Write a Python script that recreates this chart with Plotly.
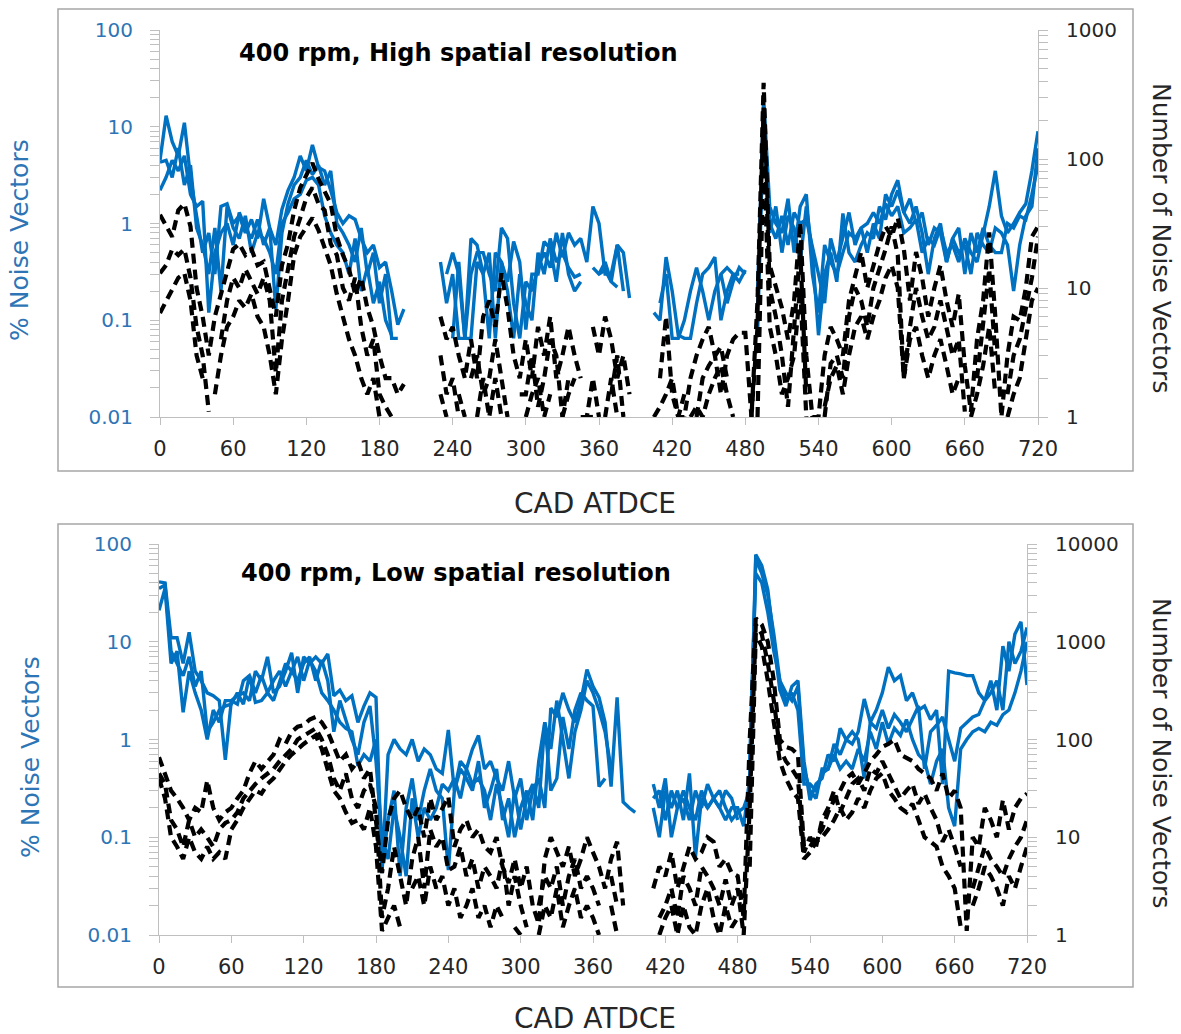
import plotly.graph_objects as go

N = None

# Crank angle (deg after TDC exhaust), 5 deg steps
cad = list(range(0, 721, 5))

# ---- 400 rpm, high spatial resolution ----
# % noise vectors (three cycles)
high_pct_1 = [
    4.5, 13, 7, 5, 11, 3, 1.2, 0.5, 0.8, 0.3, 1.5, 1.6,
    1.0, 1.2, 0.8, 1.1, 0.7, 1.8, 0.9, 0.6, 1.4, 2.2, 3.0, 5.0,
    3.5, 6.5, 3.8, 3.5, 2.2, 1.3, 1.0, 1.2, 1.1, 0.7, 0.5, 0.6,
    0.35, 0.4, 0.2, 0.09, 0.13, N, N, N, N, N, 0.4, 0.15,
    0.3, 0.065, 0.065, 0.3, 0.5, 0.5, 0.3, 0.2, 0.9, 0.7, 0.15, 0.065,
    0.25, 0.2, 0.35, 0.5, 0.35, 0.8, 0.45, 0.8, 0.6, 0.7, 0.4, 1.5,
    1.0, 0.3, 0.3, 0.6, 0.5, 0.17, N, N, N, 0.12, 0.1, 0.45,
    0.2, 0.07, 0.065, 0.065, 0.15, 0.3, 0.35, 0.45, 0.1, 0.2, 0.3, 0.25,
    0.33, N, 0.1, 20, 1.5, 1.0, 0.8, 1.8, 0.5, 1.5, 2.0, 0.3,
    0.12, 0.6, 0.4, 0.3, 0.5, 0.8, 0.7, 0.9, 1.0, 1.3, 1.0, 1.6,
    1.2, 1.5, 0.8, 0.9, 1.1, 0.5, 0.7, 0.6, 0.9, 0.5, 0.6, 0.4,
    0.7, 0.5, 0.4, 0.8, 1.5, 3.5, 1.2, 0.8, 1.0, 1.3, 1.6, 3.5,
    9.0]
high_pct_2 = [
    2.2, 3.0, 4.5, 3.5, 5.0, 2.0, 1.5, 1.7, 0.12, 0.5, 0.8, 1.0,
    0.6, 1.3, 0.9, 0.7, 1.1, 0.6, 0.9, 0.13, 0.8, 1.6, 2.5, 3.0,
    4.5, 3.2, 4.0, 2.5, 3.5, 1.0, 0.8, 0.6, 0.4, 0.9, 0.3, 0.5,
    0.15, 0.3, 0.065, 0.065, N, N, N, N, N, N, N, 0.3,
    0.5, 0.3, 0.065, 0.7, 0.6, 0.3, 0.065, 0.5, 0.4, 0.25, 0.65, 0.4,
    0.08, 0.3, 0.3, 0.65, 0.55, 0.25, 0.8, 0.3, 0.2, 0.25, N, N,
    0.3, 0.4, 0.25, 0.6, 0.2, N, N, N, N, N, 0.15, 0.3,
    0.065, 0.065, 0.1, 0.2, 0.35, 0.2, 0.1, 0.2, 0.3, 0.35, 0.3, 0.3,
    N, N, 0.2, 15, 1.0, 0.7, 1.2, 0.6, 1.3, 1.0, 1.1, 0.6,
    0.3, 0.15, 0.7, 0.4, 0.7, 1.3, 0.6, 0.9, 0.5, 1.0, 0.7, 2.0,
    1.5, 2.2, 1.3, 1.8, 1.0, 1.3, 0.6, 0.9, 0.8, 0.4, 0.7, 0.5,
    0.6, 0.3, 0.8, 0.6, 0.5, 0.9, 0.8, 0.6, 0.2, 0.6, 1.2, 1.5,
    6.0]
high_pct_3 = [
    4.3, 4.5, 3.0, 6.0, 2.5, 4.0, 0.9, 0.6, 0.3, 0.9, 0.2, 1.5,
    0.9, 0.7, 1.2, 0.5, 0.8, 0.7, 0.5, 0.3, 1.0, 1.3, 1.8, 2.0,
    2.8, 3.0, 2.5, 1.2, 0.8, 0.6, 0.5, 0.3, 0.7, 0.2, 0.35, 0.15,
    0.25, 0.1, 0.07, N, N, N, N, N, N, N, N, N,
    0.065, 0.4, 0.065, 0.065, 0.4, 0.3, 0.5, 0.065, 0.4, 0.2, 0.065, 0.3,
    0.15, 0.1, 0.5, 0.3, 0.7, 0.4, 0.5, 0.35, 0.28, 0.3, N, 0.35,
    0.3, 0.33, 0.25, 0.22, N, N, N, N, N, N, N, N,
    N, N, N, N, N, N, N, N, 0.3, 0.15, 0.25, 0.35,
    0.3, N, 0.07, 12, 0.8, 1.5, 0.5, 1.2, 0.9, 0.4, 1.5, 0.5,
    0.07, 0.3, 0.5, 0.25, 1.27, 0.5, 0.4, 0.6, 0.8, 0.7, 1.5, 1.1,
    2.0, 2.8, 1.3, 1.0, 1.5, 0.8, 0.3, 0.7, 1.0, 0.4, 0.7, 0.9,
    0.3, 0.8, 0.5, 0.9, 0.6, 0.5, 0.5, 1.0, 0.9, 1.2, 1.1, 2.0,
    4.0]
# number of noise vectors (three cycles)
high_cnt_1 = [
    37, 30, 25, 40, 45, 30, 10, 6, 3, 6, 9, 13,
    20, 22, 18, 20, 15, 16, 10, 6, 15, 22, 40, 60,
    75, 93, 70, 55, 45, 25, 18, 14, 9, 12, 7, 5,
    3, 2, 2, 1.5, 1.8, N, N, N, N, N, 6, 4,
    5, 3, 2, 4, 2, 6, 8, 5, 13, 7, 3, 2,
    4, 2, 5, 3, 6, 2, 3, 5, 3, 2, N, 5,
    3, 6, 4, 2, 3, 1.5, N, N, N, N, 2, 6,
    1.5, 1, 1, 2, 3, 4, 5, 3, 1.5, 3, 4, 4.5,
    4.5, 1, 8, 390, 15, 10, 7, 4, 8, 32, 3, 1,
    1, 3, 5, 4, 3, 8, 12, 19, 10, 15, 22, 30,
    25, 35, 20, 8, 19, 12, 6, 10, 15, 8, 5, 9,
    2.5, 1.1, 4, 8, 27, 6, 1, 3, 6, 5.6, 10, 25,
    30]
high_cnt_2 = [
    13, 15, 20, 18, 20, 12, 5, 3, 1.1, N, 4, 8,
    12, 10, 14, 11, 9, 12, 8, 2.2, 8, 14, 25, 35,
    50, 60, 45, 40, 22, 18, 10, 8, 12, 5, 3, 4,
    1.5, 1.2, 1, N, 1.3, N, N, N, N, N, 3, 1.5,
    2, 1, N, 2, 3, 1.5, 2, 4, 2, 1, N, 1.5,
    1.5, 3, 1.2, 2, 4, 3, 1, 2, N, 1, 1, 2,
    1, N, 1.5, 3, 1, N, N, N, N, 1, 1.2, 1.5,
    2, 1, 1.5, N, 1, 2, 2.5, 3, 3.5, 2, N, 1.5,
    N, 1, 5, 250, 10, 6, 3, 1.2, 5, 20, 1.5, N,
    N, 1, 2.6, 3, 2, 6, 10, 8, 5, 10, 14, 20,
    30, 18, 2, 5, 10, 6, 4, 5, 8, 5, 3, 4,
    1.1, N, 2, 5, 14, 3, N, 1.5, 3, 4, 7, 12,
    25]
high_cnt_3 = [
    6.4, 8, 10, 12, 13, 8, 3, 2, N, 1.5, 3, 5,
    6, 8, 7, 9, 6, 5, 3, 1.5, 4, 8, 18, 25,
    30, 35, 28, 20, 15, 9, 6, 4, 3, 2, 1.5, 2,
    1, N, 1.2, N, 1, N, N, N, N, N, 1.5, 1,
    N, 1.5, 1, N, 1, 2, 1, 2, 1, N, 1, N,
    1, 1.5, 2, 1, 1.5, N, 1, 1.5, 2, N, 1, 1,
    N, 1, 2, 1, N, N, N, N, N, N, 1, N,
    1, N, N, 1, 1.2, 1, 1.5, 2, 2.5, 1.5, 1, N,
    N, N, 1, 120, 5, 3, 1.5, 2, 3, 10, 1, N,
    N, 1.2, 2, 2.5, 1.5, 3, 5, 6, 4, 6, 8, 12,
    15, 10, 2, 4, 5, 3, 2, 3, 4, 2.5, 1.5, 2,
    N, 1, 1.5, 2.5, 5, 1.5, N, 1, 1.5, 2, 4, 8,
    10]

# ---- 400 rpm, low spatial resolution ----
low_pct_1 = [
    41, 40, 11, 11, 6, 12.5, 5, 4, 3, 2.8, 2.5, 0.62,
    2.5, 2.8, 3, 2.5, 5, 4, 7, 3, 3.5, 5, 7.7, 3,
    7, 6, 7, 6, 7.5, 2.8, 3.2, 2.5, 2.8, 1.5, 2.2, 3,
    2.7, 0.043, 0.7, 1.0, 0.8, 0.7, 1.0, 0.6, 0.8, 0.7, 0.5, 0.45,
    1.25, 0.3, 0.6, 0.5, 0.8, 1.1, 0.5, 0.6, 0.4, 0.3, 0.6, 0.25,
    0.4, 0.15, 0.3, 0.4, 0.2, 2.1, 1.7, 3, 2, 1.5, 2.5, 5.2,
    3.5, 2.7, 1.5, 0.33, 2.7, 0.23, 0.2, 0.18, N, N, 0.2, 0.1,
    0.3, 0.2, 0.3, 0.15, 0.45, 0.063, 0.25, 0.2, 0.25, 0.2, 0.15, 0.2,
    0.2, 0.13, 0.4, 78, 60, 34, 10, 3.2, 2.2, 3.5, 4, 0.6,
    0.24, 0.35, 0.4, 0.7, 0.6, 1.3, 1.0, 0.9, 1.2, 2.6, 1.5, 2,
    3, 5.5, 4, 4.5, 2.5, 3, 2, 2.2, 1.6, 2, 0.35, 5,
    4.8, 4.7, 4.5, 4.5, 3, 2.5, 4, 2, 9, 5, 12, 16,
    3.6]
low_pct_2 = [
    21, 35, 6, 8, 1.9, 5, 3, 2, 1.0, 2, 1.5, 2.5,
    2.5, 2.3, 4, 4.5, 3, 4.5, 3, 4, 5, 3.5, 5, 7,
    4, 6.5, 5, 3, 2.5, 2, 1.5, 1.3, 1.2, 0.54, 0.7, 0.6,
    1.0, 0.05, 0.15, 0.3, 0.04, 0.2, 0.4, 0.15, 0.3, 0.5, 0.3, 0.25,
    0.046, 0.3, 0.5, 0.4, 0.3, 0.6, 0.2, 0.3, 0.5, 0.15, 0.25, 0.1,
    0.2, 0.3, 0.15, 0.6, 1.5, 0.3, 0.4, 1.7, 0.8, 2, 3, 2.5,
    2.2, 0.33, 0.4, N, N, N, N, N, N, N, 0.25, 0.3,
    0.15, 0.3, 0.2, 0.25, 0.15, 0.3, 0.2, 0.35, 0.25, 0.2, 0.3, 0.25,
    0.15, N, 0.6, 50, 40, 20, 8, 4, 2.5, 3, 2, 0.35,
    0.35, 0.3, 0.45, 0.5, 0.9, 0.7, 1, 1.2, 1.0, 0.4, 1.5, 1.3,
    2, 1.3, 1.8, 1.5, 1.2, 1.6, 2.2, 0.5, 1.2, 1.4, 1.7, 1,
    0.6, 1.3, 1.5, 1.7, 1.8, 2.5, 3, 4, 2, 10, 6, 8,
    14]
low_pct_3 = [
    35, 38, 8, 6, 4.5, 7, 3.5, 5, 1.2, 1.5, 2, 2.2,
    2.3, 3, 2.3, 4.5, 2.4, 2.5, 3, 2.5, 4, 6, 5, 4,
    6, 7, 4, 6.5, 4, 1.2, 2.5, 1.6, 1.0, 0.7, 1.5, 2.2,
    0.6, 0.1, 0.06, 0.2, 0.1, 0.04, 0.25, 0.1, 0.2, 0.15, 0.2, 0.35,
    0.3, 0.4, 0.25, 0.5, 0.35, 0.4, 0.3, 0.15, 0.35, 0.2, 0.1, 0.3,
    0.12, 0.25, 0.35, 0.2, 1.5, 0.8, 2.5, 1.0, 0.4, 1.2, 2, 4,
    3, 2, 1.2, 0.5, N, N, N, N, N, N, 0.35, 0.2,
    0.4, 0.1, 0.2, 0.3, 0.2, 0.15, 0.3, 0.2, 0.25, 0.3, 0.2, 0.15,
    0.18, 0.2, 0.3, 70, 50, 30, 12, 4, 3, 2.5, 3.5, 0.5,
    0.3, 0.25, 0.5, 0.5, 0.7, 0.5, 0.6, 0.5, 0.8, 0.6, 1.2, 0.8,
    1.5, 0.9, 1.3, 1.1, 1.6, 1.0, 0.7, 0.6, 0.35, 0.6, 0.8, 0.2,
    0.13, 0.8, 1.0, 1.2, 1.3, 1.2, 1.5, 1.4, 1.8, 2, 3, 5,
    10]
low_cnt_1 = [
    66, 45, 30, 25, 20, 15, 20, 18, 38, 20, 15, 18,
    20, 25, 30, 45, 60, 50, 60, 70, 100, 90, 120, 135,
    140, 160, 170, 150, 120, 84, 60, 70, 50, 60, 40, 50,
    14, 4.3, 15, 25, 30, 20, 15, 20, 10, 25, 15, 20,
    26, 8, 12, 15, 10, 12, 8, 7, 10, 5, 3.4, 6,
    3, 5, 2, 1.3, 6, 10, 7, 5, 8, 4, 6, 10,
    7, 5, 3, 6, 9, 2, N, N, N, N, 3, 5,
    4, 7, 3, 5, 8, 6, 7, 10, 9, 5, 6, 4.3,
    4, 1.5, 100, 1740, 1500, 1000, 400, 100, 84, 80, 70, 8,
    8, 10, 12, 18, 24, 30, 40, 45, 35, 45, 60, 70,
    84, 90, 100, 70, 65, 60, 50, 45, 40, 30, 45, 25,
    30, 20, 1.1, 10, 8, 20, 15, 10, 24, 12, 20, 25,
    28]
low_cnt_2 = [
    45, 35, 15, 12, 8, 15, 10, 12, 10, 8, 12, 14,
    15, 18, 25, 30, 35, 40, 45, 50, 60, 70, 80, 100,
    110, 120, 130, 100, 70, 40, 30, 45, 25, 20, 30, 35,
    20, 1.5, 3, 8, 4, 2, 6, 10, 3, 12, 8, 10,
    4.6, 5, 8, 4, 6, 3, 5, 4, 3, 6, 2, 4,
    2, 1.2, N, 2, 4, 3, 5, 2, 4, 6, 3, 4,
    3, 2, N, 4, 2, N, N, N, N, N, N, 1.5,
    2, 3, 1.5, 4, 3, 2, 5, 4, 3, 2, 3.7, 2,
    3, 1, 20, 1500, 1200, 600, 250, 80, 60, 50, 40, 7,
    10, 8, 15, 20, 30, 18, 25, 35, 40, 30, 50, 45,
    60, 45, 35, 25, 30, 35, 22, 28, 20, 15, 9, 12,
    8, 5, N, 3, 5, 8, 6, 5, 4, 6, 8, 10,
    15]
low_cnt_3 = [
    40, 25, 10, 8, 6, 10, 7, 6, 8, 6, 7, 6,
    12, 15, 20, 25, 30, 28, 35, 40, 50, 60, 70, 80,
    90, 100, 110, 80, 50, 30, 25, 18, 14, 15, 12, 20,
    8, 1.1, 1.5, 2, 1.2, N, 3, 4, 2, 5, 3, 4,
    2, 3, 1.5, 2, 3, 1.5, 2, 1.2, 2, 1.5, N, 1.2,
    1, N, N, 1, 2, 1.5, 3, 1.2, 2, 3, 1.5, 2,
    1.5, 1, N, 2, 1, N, N, N, N, N, N, 1,
    1.5, 2, 1, 2, 1.2, 1, 2, 3, 1.5, 1, 2, 1.2,
    1.5, N, 5, 1200, 900, 400, 150, 60, 40, 30, 25, 6,
    7, 9, 10, 12, 15, 20, 15, 18, 25, 20, 30, 40,
    45, 30, 25, 20, 18, 22, 15, 10, 9, 8, 5, 4,
    3, 1.2, N, 2, 3, 5, 4, 3, 2, 4, 3, 5,
    8]

x_ticks = list(range(0, 721, 60))
pct_ticks = [0.01, 0.1, 1, 10, 100]
pct_labels = ["0.01", "0.1", "1", "10", "100"]
high_cnt_ticks = [1, 10, 100, 1000]
low_cnt_ticks = [1, 10, 100, 1000, 10000]

for s in (high_pct_1, high_pct_2, high_pct_3, high_cnt_1, high_cnt_2, high_cnt_3,
          low_pct_1, low_pct_2, low_pct_3, low_cnt_1, low_cnt_2, low_cnt_3):
    assert len(s) == len(cad), len(s)

W, H = 1181, 1034
BLUE = "#0070C0"
LABEL_BLUE = "#2E75B6"
AXIS_GRAY = "#BFBFBF"
FONT = "DejaVu Sans"


def px_x(p):
    return p / W


def px_y(p):
    return 1 - p / H


def minor_vals(lo_exp, hi_exp):
    return [m * 10 ** e for e in range(lo_exp, hi_exp) for m in range(2, 10)]


fig = go.Figure()

blue_line = dict(color=BLUE, width=3.4)
black_line = dict(color="black", width=4.2, dash="10px,6px")

for s in (high_pct_1, high_pct_2, high_pct_3):
    fig.add_trace(go.Scatter(x=cad, y=s, mode="lines", line=blue_line,
                             xaxis="x", yaxis="y", showlegend=False))
for s in (high_cnt_1, high_cnt_2, high_cnt_3):
    fig.add_trace(go.Scatter(x=cad, y=s, mode="lines", line=black_line,
                             xaxis="x", yaxis="y2", showlegend=False))
for s in (low_pct_1, low_pct_2, low_pct_3):
    fig.add_trace(go.Scatter(x=cad, y=s, mode="lines", line=blue_line,
                             xaxis="x2", yaxis="y3", showlegend=False))
for s in (low_cnt_1, low_cnt_2, low_cnt_3):
    fig.add_trace(go.Scatter(x=cad, y=s, mode="lines", line=black_line,
                             xaxis="x2", yaxis="y4", showlegend=False))

x_common = dict(range=[0, 720], tickvals=x_ticks, ticks="outside", ticklen=7,
                tickcolor=AXIS_GRAY, showline=True, linecolor=AXIS_GRAY, linewidth=1,
                showgrid=False, zeroline=False, ticklabelstandoff=6, automargin=False,
                tickfont=dict(family=FONT, size=21, color="#262626"))

y_left = dict(type="log", range=[-2, 2], tickvals=pct_ticks, ticktext=pct_labels,
              ticks="outside", ticklen=9, tickcolor=AXIS_GRAY, showline=True,
              linecolor=AXIS_GRAY, linewidth=1, showgrid=False, zeroline=False,
              ticklabelstandoff=13, automargin=False,
              minor=dict(tickvals=minor_vals(-2, 2), ticks="outside", ticklen=9,
                         tickcolor=AXIS_GRAY, showgrid=False),
              tickfont=dict(family=FONT, size=20, color=LABEL_BLUE))


def y_right(top_exp, ticks):
    return dict(type="log", range=[0, top_exp], tickvals=ticks,
                ticktext=[str(t) for t in ticks], side="right",
                ticks="outside", ticklen=9, tickcolor=AXIS_GRAY, showline=True,
                linecolor=AXIS_GRAY, linewidth=1, showgrid=False, zeroline=False,
                ticklabelstandoff=14, automargin=False,
                minor=dict(tickvals=minor_vals(0, top_exp), ticks="outside", ticklen=9,
                           tickcolor=AXIS_GRAY, showgrid=False),
                tickfont=dict(family=FONT, size=20, color="#262626"))


fig.update_layout(
    width=W, height=H, autosize=False,
    margin=dict(l=0, r=0, t=0, b=0, pad=0),
    paper_bgcolor="white", plot_bgcolor="white",
    xaxis=dict(domain=[px_x(160), px_x(1038)], anchor="y", **x_common),
    yaxis=dict(domain=[px_y(417), px_y(30)], anchor="x", **y_left),
    yaxis2=dict(overlaying="y", anchor="x", **y_right(3, high_cnt_ticks)),
    xaxis2=dict(domain=[px_x(159), px_x(1027)], anchor="y3", **x_common),
    yaxis3=dict(domain=[px_y(935), px_y(544)], anchor="x2", **y_left),
    yaxis4=dict(overlaying="y3", anchor="x2", **y_right(4, low_cnt_ticks)),
)

# panel frames
for top, bottom in ((9, 471), (524, 987)):
    fig.add_shape(type="rect", xref="paper", yref="paper",
                  x0=px_x(58), x1=px_x(1133), y0=px_y(bottom), y1=px_y(top),
                  line=dict(color="#A6A6A6", width=1.5), layer="below")

ann = []
ann.append(dict(text="<b>400 rpm, High spatial resolution</b>", x=px_x(237), y=px_y(53),
                xanchor="left", yanchor="middle",
                font=dict(family=FONT, size=24, color="black")))
ann.append(dict(text="<b>400 rpm, Low spatial resolution</b>", x=px_x(239), y=px_y(573),
                xanchor="left", yanchor="middle",
                font=dict(family=FONT, size=24, color="black")))
for cx, cy in ((20, 240), (30, 757)):
    ann.append(dict(text="% Noise Vectors", x=px_x(cx), y=px_y(cy), textangle=-90,
                    xanchor="center", yanchor="middle",
                    font=dict(family=FONT, size=25, color=LABEL_BLUE)))
for cx, cy in ((1162, 238), (1162, 753)):
    ann.append(dict(text="Number of Noise Vectors", x=px_x(cx), y=px_y(cy), textangle=90,
                    xanchor="center", yanchor="middle",
                    font=dict(family=FONT, size=25, color="#262626")))
for cy in (503, 1018):
    ann.append(dict(text="CAD ATDCE", x=px_x(595), y=px_y(cy),
                    xanchor="center", yanchor="middle",
                    font=dict(family=FONT, size=28, color="#262626")))
for a in ann:
    a.update(xref="paper", yref="paper", showarrow=False)
fig.update_layout(annotations=ann)

fig.write_html(
    "out.html",
    post_script="document.body.style.margin='0';"
                "document.documentElement.style.overflow='hidden';",
)
